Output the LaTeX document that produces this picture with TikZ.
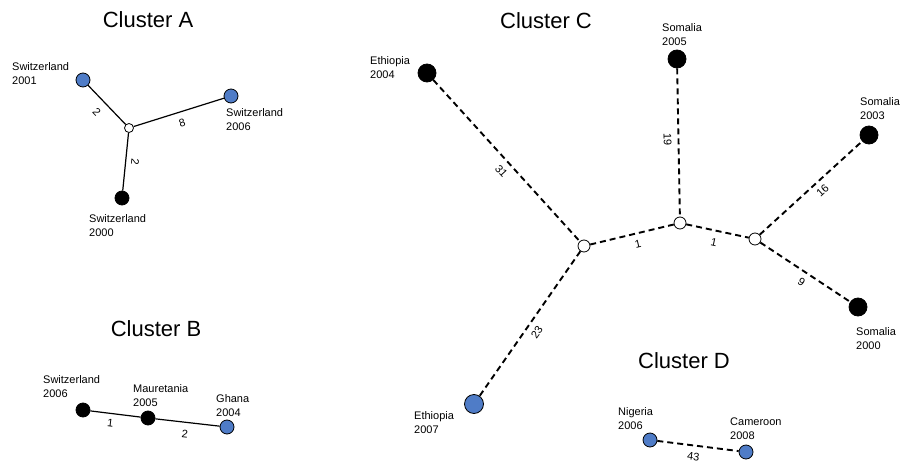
\documentclass[tikz,border=0pt]{standalone}
\usepackage{fontspec}
\setmainfont{Liberation Sans}
\definecolor{nodeblue}{RGB}{79,124,199}
\begin{document}
\begin{tikzpicture}[x=1pt, y=-1pt]
\tikzstyle{every node}=[inner sep=0pt]
\tikzstyle{title}=[font=\fontsize{22}{26}\selectfont, anchor=base]
\tikzstyle{lab}=[font=\fontsize{11}{14}\selectfont, align=left, anchor=north west]
\tikzstyle{len}=[font=\fontsize{11}{13}\selectfont, sloped]
\tikzstyle{seq}=[circle, draw=black, line width=0.8pt, minimum size=14pt]
\tikzstyle{blueseq}=[seq, fill=nodeblue]
\tikzstyle{blackseq}=[seq, fill=black]
\tikzstyle{hub}=[seq, fill=white, minimum size=9pt]
\tikzstyle{solidedge}=[black, line width=1.2pt]
\tikzstyle{dashedge}=[black, line width=1.9pt, dash pattern=on 6pt off 4pt]
\useasboundingbox (0,0) rectangle (904,468);
% cluster A
\node [title] (tA) at (148,28) {Cluster A};
\node [blueseq] (a2001) at (83,80) {};
\node [hub] (ahub) at (129,128) {};
\node [blueseq] (a2006) at (231,96) {};
\node [blackseq] (a2000) at (122,198) {};
\node [lab] (la2001) at (12,62) {Switzerland\\2001};
\node [lab] (la2006) at (226,108) {Switzerland\\2006};
\node [lab] (la2000) at (89,214) {Switzerland\\2000};
\draw [solidedge] (a2001) -- node [len, below=8pt, pos=0.47] (ea1) {2} (ahub);
\draw [solidedge] (ahub) -- node [len, below=7pt, pos=0.5] (ea2) {8} (a2006);
\draw [solidedge] (ahub) -- node [len, allow upside down, above=5pt, pos=0.49] (ea3) {2} (a2000);
% cluster B
\node [title] (tB) at (156,336) {Cluster B};
\node [blackseq] (b2006) at (83,410) {};
\node [blackseq] (b2005) at (148,418) {};
\node [blueseq] (b2004) at (227,427) {};
\node [lab] (lb2006) at (43,375) {Switzerland\\2006};
\node [lab] (lb2005) at (133,384) {Mauretania\\2005};
\node [lab] (lb2004) at (216,394) {Ghana\\2004};
\draw [solidedge] (b2006) -- node [len, below=5pt, pos=0.42] (eb1) {1} (b2005);
\draw [solidedge] (b2005) -- node [len, below=7pt, pos=0.48] (eb2) {2} (b2004);
% cluster C
\node [title] (tC) at (546,29) {Cluster C};
\node [blackseq, minimum size=18pt] (c2004) at (427,73) {};
\node [blackseq, minimum size=18pt] (c2005) at (677,59) {};
\node [blackseq, minimum size=18pt] (c2003) at (869,135) {};
\node [blackseq, minimum size=18pt] (c2000) at (858,307) {};
\node [blueseq, minimum size=19pt] (c2007) at (474,404) {};
\node [hub, minimum size=12pt] (c1) at (584,246) {};
\node [hub, minimum size=12pt] (c2) at (680,223) {};
\node [hub, minimum size=12pt] (c3) at (755,239) {};
\node [lab] (lc2004) at (370,56) {Ethiopia\\2004};
\node [lab] (lc2005) at (662,23) {Somalia\\2005};
\node [lab] (lc2003) at (860,97) {Somalia\\2003};
\node [lab] (lc2000) at (856,327) {Somalia\\2000};
\node [lab] (lc2007) at (414,411) {Ethiopia\\2007};
\draw [dashedge] (c2004) -- node [len, below=6pt, pos=0.52] (ec1) {31} (c1);
\draw [dashedge] (c2005) -- node [len, below=6pt, pos=0.48] (ec2) {19} (c2);
\draw [dashedge] (c3) -- node [len, below=5pt, pos=0.55] (ec3) {16} (c2003);
\draw [dashedge] (c1) -- node [len, below=6pt, pos=0.54] (ec4) {1} (c2);
\draw [dashedge] (c2) -- node [len, below=7pt, pos=0.48] (ec5) {1} (c3);
\draw [dashedge] (c3) -- node [len, below=5pt, pos=0.52] (ec6) {9} (c2000);
\draw [dashedge] (c1) -- node [len, below=6pt, pos=0.52] (ec7) {23} (c2007);
% cluster D
\node [title] (tD) at (684,368) {Cluster D};
\node [blueseq] (d2006) at (650,440) {};
\node [blueseq] (d2008) at (746,452) {};
\node [lab] (ld2006) at (618,407) {Nigeria\\2006};
\node [lab] (ld2008) at (730,418) {Cameroon\\2008};
\draw [dashedge] (d2006) -- node [len, below=6pt, pos=0.46] (ed1) {43} (d2008);
\end{tikzpicture}
\end{document}
